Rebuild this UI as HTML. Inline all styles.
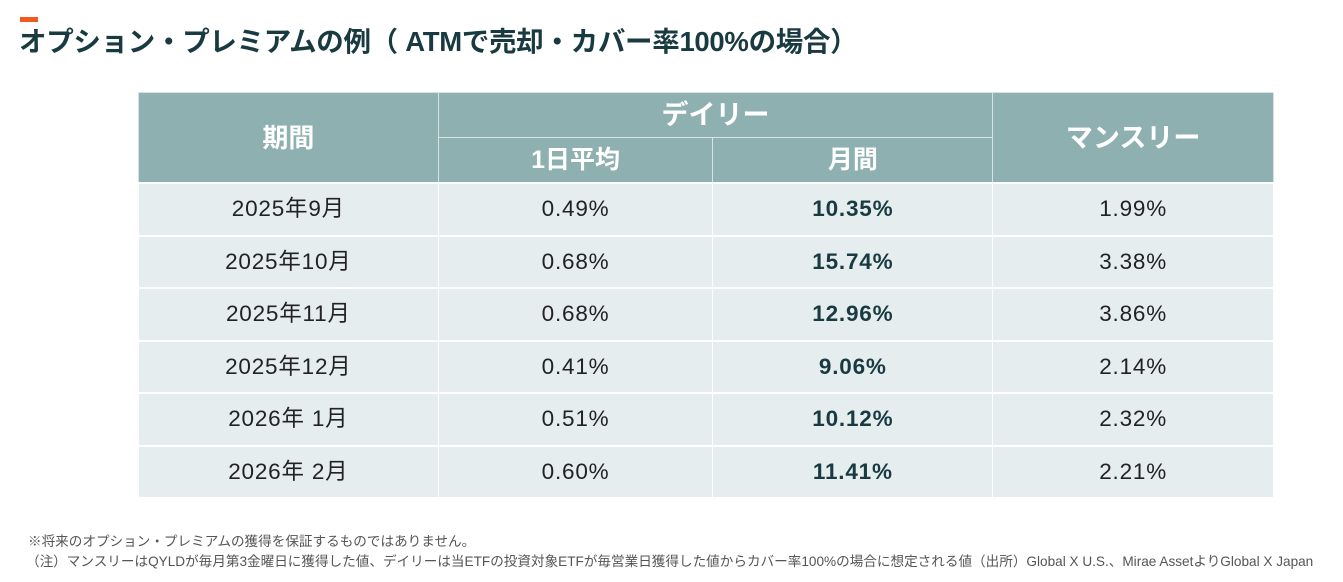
<!DOCTYPE html>
<html><head><meta charset="utf-8">
<style>
body{margin:0;width:1343px;height:582px;background:#fff;font-family:"Liberation Sans","Noto Sans CJK JP",sans-serif;position:relative;overflow:hidden}
.bar{position:absolute;left:20px;top:17px;width:18px;height:5px;background:#f05a1e}
h1{position:absolute;left:19px;top:24px;margin:0;font-size:27.5px;line-height:36px;font-weight:bold;color:#183a40;white-space:nowrap;letter-spacing:-0.3px}
table{position:absolute;left:138px;top:92px;border-collapse:collapse;width:1136px}
th{background:#8fb0b0;color:#fff;font-weight:bold;border:1px solid #d8e4e4;padding:0;line-height:30px}
td{background:#e5edef;color:#222;text-align:center;font-size:22.5px;letter-spacing:0.8px;border:2px solid #fff;border-left:1px solid #fff;border-right:1px solid #fff;height:50.5px;padding:0;line-height:26px;vertical-align:middle}
td.b{font-weight:bold;color:#183a40}
.note{position:absolute;left:28px;font-size:13.6px;color:#555;white-space:nowrap}
</style></head><body>
<div class="bar"></div>
<h1>オプション・プレミアムの例（ ATMで売却・カバー率100%の場合）</h1>
<table>
<tr><th rowspan="2" style="width:299px;font-size:26px">期間</th>
<th colspan="2" style="height:44px;font-size:27px">デイリー</th>
<th rowspan="2" style="width:280px;font-size:27px">マンスリー</th></tr>
<tr><th style="width:274px;height:44px;font-size:25px">1日平均</th>
<th style="width:279px;font-size:25px">月間</th></tr>
<tr><td>2025年9月</td><td>0.49%</td><td class="b">10.35%</td><td>1.99%</td></tr>
<tr><td>2025年10月</td><td>0.68%</td><td class="b">15.74%</td><td>3.38%</td></tr>
<tr><td>2025年11月</td><td>0.68%</td><td class="b">12.96%</td><td>3.86%</td></tr>
<tr><td>2025年12月</td><td>0.41%</td><td class="b">9.06%</td><td>2.14%</td></tr>
<tr><td>2026年 1月</td><td>0.51%</td><td class="b">10.12%</td><td>2.32%</td></tr>
<tr><td>2026年 2月</td><td>0.60%</td><td class="b">11.41%</td><td>2.21%</td></tr>
</table>
<div class="note" style="top:530px">※将来のオプション・プレミアムの獲得を保証するものではありません。</div>
<div class="note" style="top:550px;left:26px">（注）マンスリーはQYLDが毎月第3金曜日に獲得した値、デイリーは当ETFの投資対象ETFが毎営業日獲得した値からカバー率100%の場合に想定される値（出所）Global X U.S.、Mirae AssetよりGlobal X Japan</div>
</body></html>
